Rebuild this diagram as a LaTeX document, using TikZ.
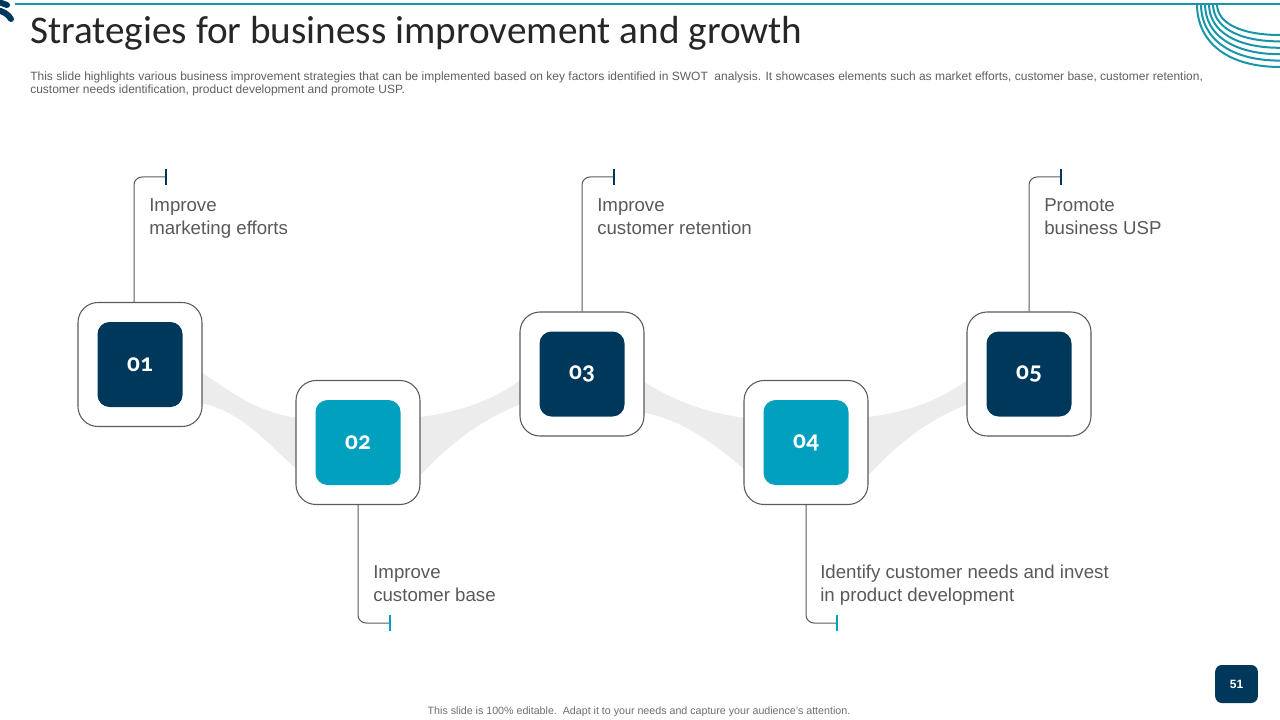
\documentclass[tikz,border=0pt]{standalone}
\usepackage{fontspec}
\setmainfont{Liberation Sans}
\newfontfamily\titlefont{Carlito}
\newfontfamily\numfont[Numbers=OldStyle]{Carlito}
\usetikzlibrary{calc,backgrounds}
\definecolor{cNavy}{RGB}{0,56,92}
\definecolor{cTeal}{RGB}{0,160,190}
\definecolor{cLine}{RGB}{24,150,168}
\definecolor{cText}{RGB}{89,89,89}
\definecolor{cTitle}{RGB}{38,38,38}
\definecolor{cDesc}{RGB}{95,95,95}
\definecolor{cFoot}{RGB}{110,110,110}
\definecolor{cRibbon}{RGB}{236,236,236}
\definecolor{cBorder}{RGB}{90,90,90}
\newcommand\downribbon[2]{%
  \fill[cRibbon] ($(#1.east)+(-5,5)$) .. controls ($(#1.east)+(24,24)$) and ($(#2.west)+(-42,-30)$) .. ($(#2.west)+(5,-24)$)
    -- ($(#2.west)+(5,30)$) .. controls ($(#2.west)+(-25,5)$) and ($(#1.east)+(40,45)$) .. ($(#1.east)+(-5,38)$) -- cycle;}
\newcommand\upribbon[2]{%
  \fill[cRibbon] ($(#1.east)+(-5,-25)$) .. controls ($(#1.east)+(42,-30)$) and ($(#2.west)+(-22,24)$) .. ($(#2.west)+(5,3)$)
    -- ($(#2.west)+(5,29)$) .. controls ($(#2.west)+(-40,45)$) and ($(#1.east)+(25,5)$) .. ($(#1.east)+(-5,38)$) -- cycle;}
\begin{document}
\begin{tikzpicture}[x=0.75pt,y=-0.75pt,
  outerbox/.style={draw=cBorder, line width=0.8pt, fill=white, rounded corners=15pt,
    minimum width=93pt, minimum height=93pt, inner sep=0pt},
  innerbox/.style={rounded corners=9pt, minimum width=63.75pt, minimum height=63.75pt,
    inner sep=0pt, text=white, font=\numfont\bfseries\fontsize{19}{22}\selectfont},
  navybox/.style={innerbox, fill=cNavy},
  tealbox/.style={innerbox, fill=cTeal},
  conn/.style={draw=cBorder, line width=0.75pt, rounded corners=6pt},
  tickN/.style={draw=cNavy, line width=2pt},
  tickT/.style={draw=cTeal, line width=2pt},
  lbl/.style={anchor=north west, inner sep=0pt, align=left, text=cText,
    font=\fontsize{14}{17.4}\selectfont},
  arcline/.style={draw=cLine, line width=1.5pt}
]
\useasboundingbox (0,0) rectangle (1280,720);

% header decorations
\draw[cLine, line width=1.5pt] (15,4) -- (1280,4);
\foreach \i in {0,...,5}{
  \pgfmathsetmacro{\a}{83-4*\i}
  \pgfmathsetmacro{\b}{63-6.4*\i}
  \draw[arcline] (1280-\a,4) .. controls (1280-\a,4+0.62*\b) and (1280-0.62*\a,4+\b) .. (1280,4+\b);
}
\begin{scope}
\clip (0,0) rectangle (30,30);
\draw[cNavy, line width=4.5pt, line cap=round] (-4,10) .. controls (3,11) and (8,14) .. (11,19);
\draw[cNavy, line width=4.5pt, line cap=round] (-4,1) -- (7,5);
\end{scope}

% title and description
\node[anchor=base west, inner sep=0pt, text=cTitle, font=\titlefont\fontsize{29.4}{34}\selectfont] (title)
  at (30,44) {Strategies for business improvement and growth};
\node[anchor=north west, inner sep=0pt, align=left, text=cDesc, font=\fontsize{9}{9.4}\selectfont] (desc)
  at (30,71.8) {This slide highlights various business improvement strategies that can be implemented based on key factors identified in SWOT\ \ analysis. It showcases elements such as market efforts, customer base, customer retention,\\
  customer needs identification, product development and promote USP.};

% boxes
\node[outerbox] (b1) at (140,364.5) {};
\node[navybox] (n1) at (b1.center) {01};
\node[outerbox] (b2) at (358,442.5) {};
\node[tealbox] (n2) at (b2.center) {02};
\node[outerbox] (b3) at (582,374) {};
\node[navybox] (n3) at (b3.center) {03};
\node[outerbox] (b4) at (806,442.5) {};
\node[tealbox] (n4) at (b4.center) {04};
\node[outerbox] (b5) at (1029,374) {};
\node[navybox] (n5) at (b5.center) {05};

% ribbons behind the boxes
\begin{scope}[on background layer]
\downribbon{b1}{b2}
\upribbon{b2}{b3}
\downribbon{b3}{b4}
\upribbon{b4}{b5}
\end{scope}

% callouts
\coordinate (t1) at (166,177);
\draw[conn] ($(b1.north)+(-6,0)$) |- (t1);
\draw[tickN] ($(t1)+(0,-8)$) -- ($(t1)+(0,8)$);
\node[lbl] (l1) at (149,198.6) {Improve\\marketing efforts};

\coordinate (t3) at (614,177);
\draw[conn] (b3.north) |- (t3);
\draw[tickN] ($(t3)+(0,-8)$) -- ($(t3)+(0,8)$);
\node[lbl] (l3) at (597,198.6) {Improve\\customer retention};

\coordinate (t5) at (1061,177);
\draw[conn] (b5.north) |- (t5);
\draw[tickN] ($(t5)+(0,-8)$) -- ($(t5)+(0,8)$);
\node[lbl] (l5) at (1044,198.6) {Promote\\business USP};

\coordinate (t2) at (390,623);
\draw[conn] (b2.south) |- (t2);
\draw[tickT] ($(t2)+(0,-8)$) -- ($(t2)+(0,8)$);
\node[lbl] (l2) at (373,565.4) {Improve\\customer base};

\coordinate (t4) at (837,623);
\draw[conn] (b4.south) |- (t4);
\draw[tickT] ($(t4)+(0,-8)$) -- ($(t4)+(0,8)$);
\node[lbl] (l4) at (820,564.4) {Identify customer needs and invest\\in product development};

% footer
\node[anchor=base, inner sep=0pt, text=cFoot, font=\fontsize{8}{9}\selectfont] (foot)
  at (639,714) {This slide is 100\% editable.\ \ Adapt it to your needs and capture your audience's attention.};
\node[fill=cNavy, rounded corners=5pt, minimum width=32pt, minimum height=28.5pt, inner sep=0pt,
  text=white, font=\bfseries\fontsize{9}{10}\selectfont] (pg) at (1236.5,684) {51};
\end{tikzpicture}
\end{document}
